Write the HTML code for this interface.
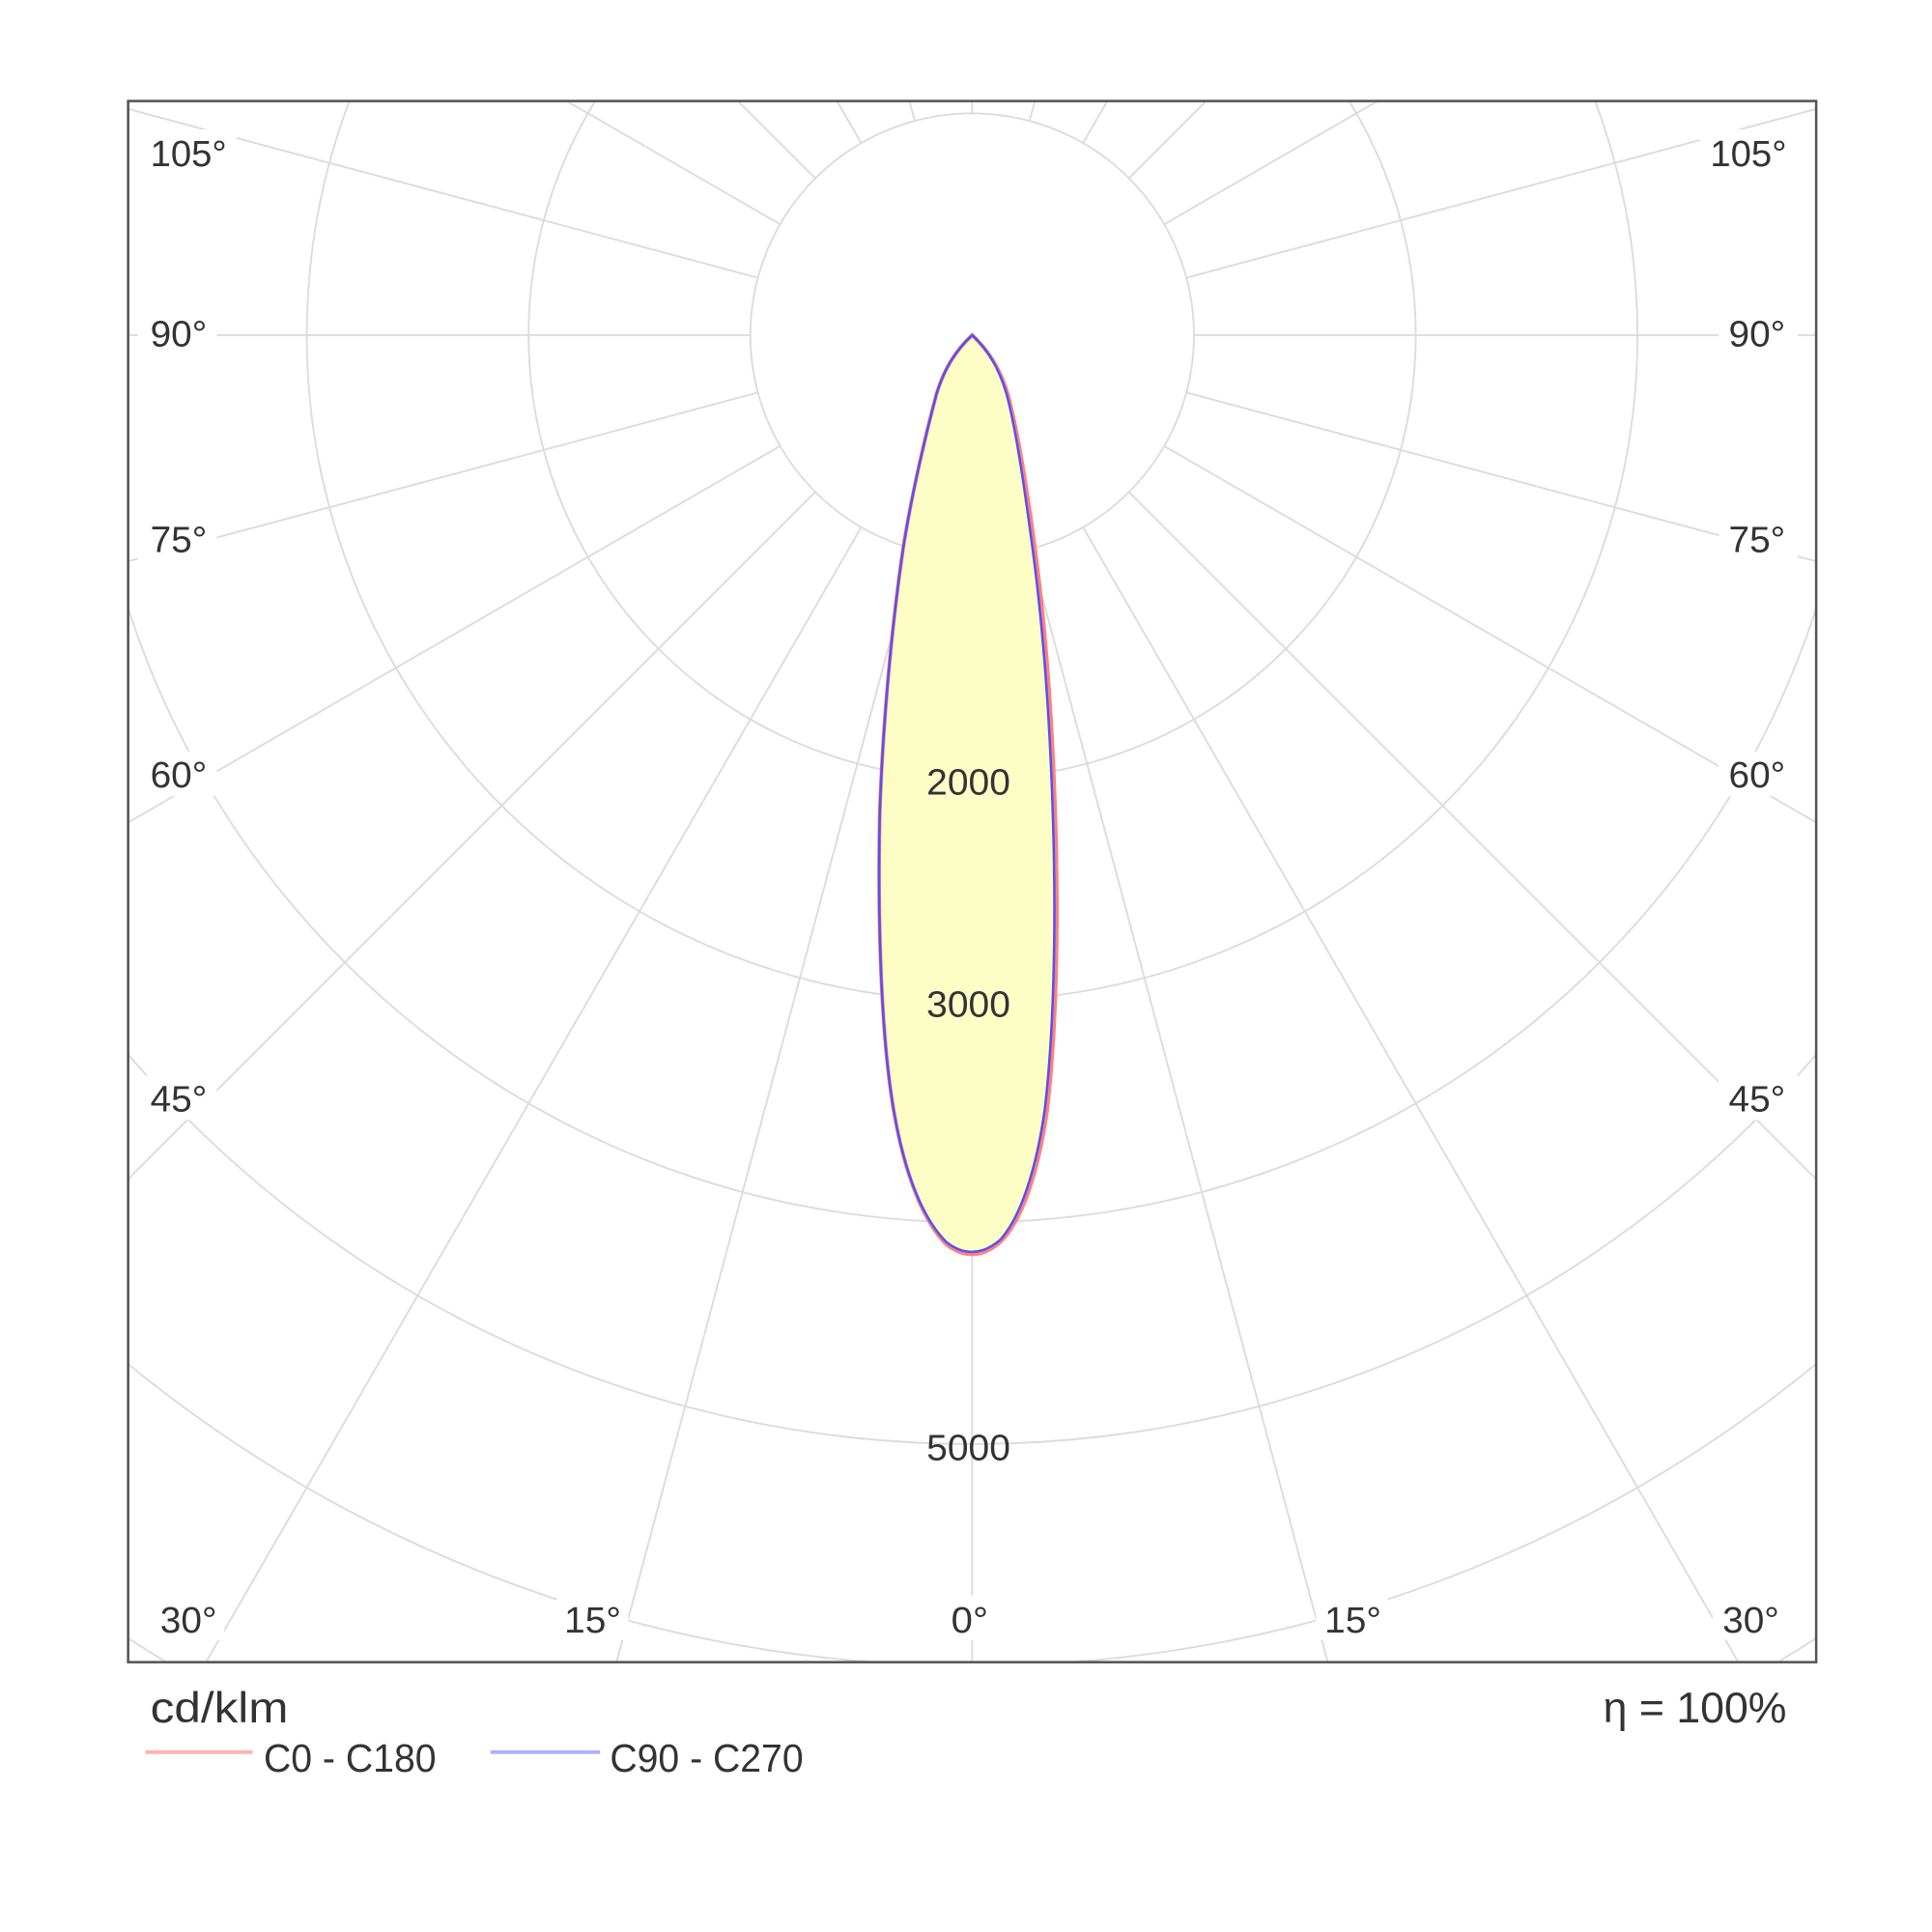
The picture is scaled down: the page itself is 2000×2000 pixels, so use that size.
<!DOCTYPE html>
<html><head><meta charset="utf-8"><style>html,body{margin:0;padding:0;background:#fff;width:2000px;height:2000px;overflow:hidden}svg{display:block}</style></head>
<body>
<svg width="2000" height="2000" viewBox="0 0 1568 1568" xmlns="http://www.w3.org/2000/svg" font-family="'Liberation Sans', sans-serif">
<defs><clipPath id="c"><rect x="104" y="82" width="1370" height="1267"/></clipPath></defs>
<rect width="1568" height="1568" fill="#fff"/>
<g clip-path="url(#c)" stroke="#dcdcdc" stroke-width="1.5" fill="none">
<circle cx="789" cy="272" r="180"/><circle cx="789" cy="272" r="360"/><circle cx="789" cy="272" r="540"/>
<circle cx="789" cy="272" r="720"/><circle cx="789" cy="272" r="900"/><circle cx="789" cy="272" r="1080"/>
<circle cx="789" cy="272" r="1260"/><circle cx="789" cy="272" r="1440"/>
<line x1="789" y1="452" x2="789" y2="2200"/>
<line x1="789" y1="452" x2="789" y2="2200" transform="rotate(15 789 272)"/>
<line x1="789" y1="452" x2="789" y2="2200" transform="rotate(30 789 272)"/>
<line x1="789" y1="452" x2="789" y2="2200" transform="rotate(45 789 272)"/>
<line x1="789" y1="452" x2="789" y2="2200" transform="rotate(60 789 272)"/>
<line x1="789" y1="452" x2="789" y2="2200" transform="rotate(75 789 272)"/>
<line x1="789" y1="452" x2="789" y2="2200" transform="rotate(90 789 272)"/>
<line x1="789" y1="452" x2="789" y2="2200" transform="rotate(105 789 272)"/>
<line x1="789" y1="452" x2="789" y2="2200" transform="rotate(120 789 272)"/>
<line x1="789" y1="452" x2="789" y2="2200" transform="rotate(135 789 272)"/>
<line x1="789" y1="452" x2="789" y2="2200" transform="rotate(150 789 272)"/>
<line x1="789" y1="452" x2="789" y2="2200" transform="rotate(165 789 272)"/>
<line x1="789" y1="452" x2="789" y2="2200" transform="rotate(180 789 272)"/>
<line x1="789" y1="452" x2="789" y2="2200" transform="rotate(-15 789 272)"/>
<line x1="789" y1="452" x2="789" y2="2200" transform="rotate(-30 789 272)"/>
<line x1="789" y1="452" x2="789" y2="2200" transform="rotate(-45 789 272)"/>
<line x1="789" y1="452" x2="789" y2="2200" transform="rotate(-60 789 272)"/>
<line x1="789" y1="452" x2="789" y2="2200" transform="rotate(-75 789 272)"/>
<line x1="789" y1="452" x2="789" y2="2200" transform="rotate(-90 789 272)"/>
<line x1="789" y1="452" x2="789" y2="2200" transform="rotate(-105 789 272)"/>
<line x1="789" y1="452" x2="789" y2="2200" transform="rotate(-120 789 272)"/>
<line x1="789" y1="452" x2="789" y2="2200" transform="rotate(-135 789 272)"/>
<line x1="789" y1="452" x2="789" y2="2200" transform="rotate(-150 789 272)"/>
<line x1="789" y1="452" x2="789" y2="2200" transform="rotate(-165 789 272)"/>
</g>
<path d="M789,272 C775,285 766,300 760,320 C752,350 740,400 733,445 C722,520 716,600 714,660 C712,760 716,850 726,905 C734,950 748,990 768,1010 C776,1016 782,1018 789,1018 C796,1018 804,1015 812,1008 C830,990 843,950 850,900 C857,840 859,760 857,680 C855,600 850,520 840,445 C834,400 826,350 818,320 C812,300 803,285 789,272 Z" fill="#fdfdc6" stroke="#ff8080" stroke-width="3"/>
<path d="M789,272 C775,285 766,300 760,320 C752,350 740,400 733,445 C722,520 716,600 714,660 C712,760 716,850 726,905 C734,950 748,988 768,1008 C776,1014 782,1016 789,1016 C796,1016 804,1013 812,1006 C828,988 841,950 848,900 C855,840 857,760 855,680 C853,600 848,520 838,445 C832,400 825,350 817,320 C811,300 803,285 789,272 Z" fill="none" stroke="#5a50ee" stroke-width="2"/>
<g fill="#fff">
<rect x="112" y="105" width="80" height="36"/><rect x="112" y="252" width="64" height="36"/><rect x="112" y="419" width="64" height="36"/>
<rect x="112" y="610" width="64" height="36"/><rect x="112" y="873" width="64" height="36"/>
<rect x="122" y="1295" width="60" height="36"/><rect x="452" y="1295" width="58" height="36"/><rect x="766" y="1295" width="46" height="36"/>
<rect x="1068" y="1295" width="58" height="36"/><rect x="1390" y="1295" width="60" height="36"/>
<rect x="1380" y="105" width="80" height="36"/><rect x="1395" y="252" width="64" height="36"/><rect x="1395" y="419" width="64" height="36"/>
<rect x="1395" y="610" width="64" height="36"/><rect x="1395" y="873" width="64" height="36"/>
</g>
<g font-size="30" fill="#333">
<text x="122" y="135" textLength="62" lengthAdjust="spacingAndGlyphs">105°</text>
<text x="122" y="281" textLength="46" lengthAdjust="spacingAndGlyphs">90°</text>
<text x="122" y="448" textLength="46" lengthAdjust="spacingAndGlyphs">75°</text>
<text x="122" y="639" textLength="46" lengthAdjust="spacingAndGlyphs">60°</text>
<text x="122" y="902" textLength="46" lengthAdjust="spacingAndGlyphs">45°</text>
<text x="130" y="1325" textLength="46" lengthAdjust="spacingAndGlyphs">30°</text>
<text x="458" y="1325" textLength="46" lengthAdjust="spacingAndGlyphs">15°</text>
<text x="772" y="1325" textLength="30" lengthAdjust="spacingAndGlyphs">0°</text>
<text x="1075" y="1325" textLength="46" lengthAdjust="spacingAndGlyphs">15°</text>
<text x="1398" y="1325" textLength="46" lengthAdjust="spacingAndGlyphs">30°</text>
<text x="1388" y="135" textLength="62" lengthAdjust="spacingAndGlyphs">105°</text>
<text x="1403" y="281" textLength="46" lengthAdjust="spacingAndGlyphs">90°</text>
<text x="1403" y="448" textLength="46" lengthAdjust="spacingAndGlyphs">75°</text>
<text x="1403" y="639" textLength="46" lengthAdjust="spacingAndGlyphs">60°</text>
<text x="1403" y="902" textLength="46" lengthAdjust="spacingAndGlyphs">45°</text>
<text x="752" y="645" textLength="68" lengthAdjust="spacingAndGlyphs">2000</text>
<text x="752" y="825" textLength="68" lengthAdjust="spacingAndGlyphs">3000</text>
<text x="752" y="1185" textLength="68" lengthAdjust="spacingAndGlyphs">5000</text>
</g>
<rect x="104" y="82" width="1370" height="1267" fill="none" stroke="#555" stroke-width="2"/>
<text x="122" y="1398" font-size="35" fill="#333" textLength="112" lengthAdjust="spacingAndGlyphs">cd/klm</text>
<text x="1450" y="1398" font-size="35" fill="#333" text-anchor="end">η = 100%</text>
<line x1="118" y1="1422" x2="205" y2="1422" stroke="#ffb0b0" stroke-width="3"/>
<text x="214" y="1438" font-size="32" fill="#333" textLength="140" lengthAdjust="spacingAndGlyphs">C0 - C180</text>
<line x1="398" y1="1422" x2="487" y2="1422" stroke="#b0b0ff" stroke-width="3"/>
<text x="495" y="1438" font-size="32" fill="#333" textLength="157" lengthAdjust="spacingAndGlyphs">C90 - C270</text>
</svg>
</body></html>
